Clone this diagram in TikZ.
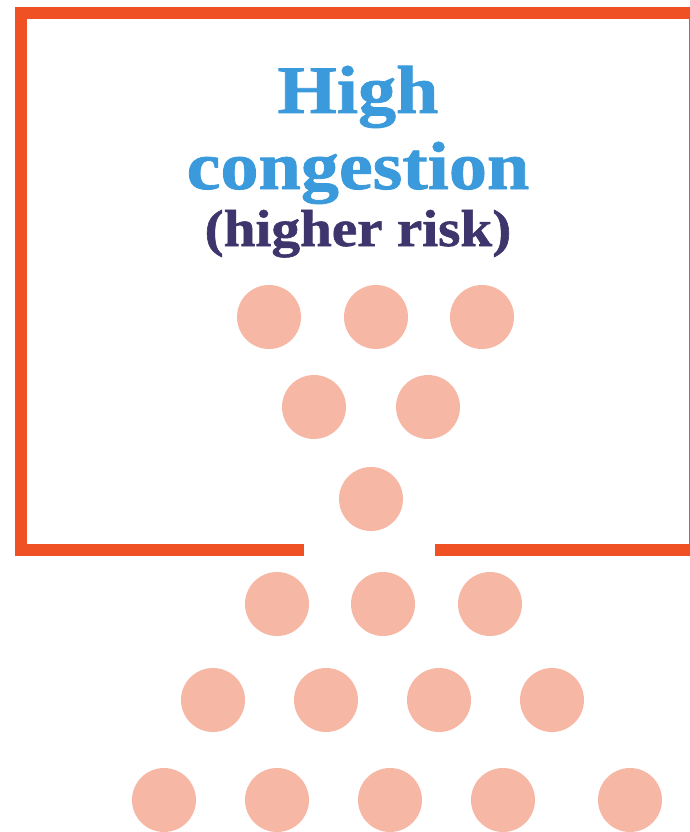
\documentclass[tikz,border=0pt]{standalone}
\usepackage{fontspec}
\newfontfamily\titlefont[FakeStretch=1.12,FakeBold=1.2]{Liberation Serif}
\newfontfamily\subfont[FakeStretch=1.1,FakeBold=1.2]{Liberation Serif}
\definecolor{wallorange}{HTML}{EF5024}
\definecolor{titleblue}{HTML}{3A9ADB}
\definecolor{subpurple}{HTML}{3D356B}
\definecolor{dotpink}{HTML}{F7B7A5}
\tikzset{
  wall/.style={draw=wallorange, line width=12pt, line join=miter},
  person/.style={circle, fill=dotpink, minimum size=64pt, inner sep=0pt, draw=none},
  titletext/.style={text=titleblue, font=\titlefont\bfseries\fontsize{68}{68}\selectfont, anchor=base, inner sep=0pt},
  subtext/.style={text=subpurple, font=\subfont\bfseries\fontsize{52}{52}\selectfont, anchor=base, inner sep=0pt}
}
\begin{document}
\begin{tikzpicture}[x=1pt, y=-1pt]
\useasboundingbox (0,0) rectangle (690,832);
% room walls with doorway
\coordinate (doorL) at (304,549.5);
\coordinate (cornerBL) at (21,549.5);
\coordinate (cornerTL) at (21,13);
\coordinate (cornerTR) at (695,13);
\coordinate (cornerBR) at (695,549.5);
\coordinate (doorR) at (435,549.5);
\draw[wall] (doorL) -- (cornerBL) -- (cornerTL) -- (cornerTR) -- (cornerBR) -- (doorR);
% title
\node[titletext] (t1) at (358,113) {High};
\node[titletext] (t2) at (358,189) {congestion};
\node[subtext] (t3) at (358,246) {(higher risk)};
% people inside
\node[person] (p11) at (269,317) {};
\node[person] (p12) at (376,317) {};
\node[person] (p13) at (482,317) {};
\node[person] (p21) at (314,407) {};
\node[person] (p22) at (428,407) {};
\node[person] (p31) at (371,499) {};
% people outside
\node[person] (p41) at (277,604) {};
\node[person] (p42) at (383,604) {};
\node[person] (p43) at (490,604) {};
\node[person] (p51) at (213,700) {};
\node[person] (p52) at (326,700) {};
\node[person] (p53) at (439,700) {};
\node[person] (p54) at (552,700) {};
\node[person] (p61) at (164,800) {};
\node[person] (p62) at (277,800) {};
\node[person] (p63) at (390,800) {};
\node[person] (p64) at (503,800) {};
\node[person] (p65) at (630,800) {};
\end{tikzpicture}
\end{document}
